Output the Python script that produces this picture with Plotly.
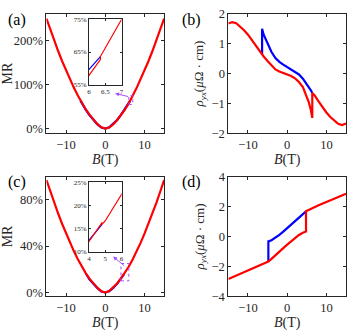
import plotly.graph_objects as go

# ---- data ----
# (a) MR, sample 1
a_red_B = [-15, -14, -13, -12, -11, -10, -9, -8, -7, -6, -5, -4, -3, -2, -1, 0,
           1, 2, 3, 4, 5, 6, 6.35, 6.35, 7, 8, 9, 10, 11, 12, 13, 14, 15]
a_red_MR = [250, 224, 199.5, 175.7, 153, 131.7, 111.5, 92.6, 75, 58.8, 44, 31, 19.7, 10, 2.8, 0,
            2.5, 9.5, 19.1, 30.3, 43.3, 57.8, 62.7, 63.6, 75, 92.6, 111.5, 131.7, 153, 175.7, 199.5, 224, 250]
a_blue_B = [6.35, 6, 5, 4, 3, 2, 1, 0, -1, -2, -3, -4, -5, -6, -6.35, -6.35]
a_blue_MR = [63.6, 58.8, 44, 31, 19.7, 10, 2.8, 0, 2.5, 9.5, 19.1, 30.3, 43.3, 57.8, 62.7, 63.6]

# (b) Hall resistivity, sample 1
b_red_B = [-15, -14, -13, -12, -11, -10, -9, -8, -7, -6.4, -6, -5, -4, -3, -2, -1, 0,
           1, 2, 3, 4, 5, 5.5, 6, 6.4, 6.4, 7, 8, 9, 10, 11, 12, 13, 14, 15]
b_red_rho = [1.67, 1.72, 1.68, 1.58, 1.45, 1.3, 1.12, 0.93, 0.73, 0.65, 0.57, 0.42, 0.27, 0.14, 0.07, 0.02, -0.03,
             -0.08, -0.16, -0.28, -0.45, -0.75, -0.95, -1.2, -1.48, -0.65, -0.73, -0.93, -1.12, -1.3, -1.45, -1.58, -1.68, -1.72, -1.67]
b_blue_B = [-6.4, -6.4, -6, -5.5, -5, -4, -3, -2, -1, 0, 1, 2, 3, 4, 5, 6, 6.4]
b_blue_rho = [0.65, 1.5, 1.3, 1.15, 0.98, 0.72, 0.52, 0.39, 0.3, 0.22, 0.15, 0.07, -0.03, -0.17, -0.35, -0.55, -0.65]

# (c) MR, sample 2
c_red_B = [-15, -14, -13, -12, -11, -10, -9, -8, -7, -6, -5, -4, -3, -2, -1, 0,
           1, 2, 3, 4, 4.8, 4.8, 5, 6, 7, 8, 9, 10, 11, 12, 13, 14, 15]
c_red_MR = [97, 86.9, 77.1, 67.9, 59.1, 50.7, 42.8, 35.5, 28.7, 22.4, 16.7, 11.7, 7.4, 3.9, 1.1, 0,
            1.2, 4.1, 7.8, 12.2, 16.3, 15.9, 16.7, 22.4, 28.7, 35.5, 42.8, 50.7, 59.1, 67.9, 77.1, 86.9, 97]
c_blue_B = [4.8, 4, 3, 2, 1, 0, -1, -2, -3, -4, -4.8, -4.8]
c_blue_MR = [15.9, 11.7, 7.4, 3.9, 1.1, 0, 0.8, 3.6, 7.0, 11.2, 15.5, 15.9]

# (d) Hall resistivity, sample 2
d_red_B = [-15, -12, -10, -8, -6, -4.8, -4, -3, -2, -1, 0, 1, 2, 3, 4, 4.8, 4.8, 6, 8, 10, 12, 15]
d_red_rho = [-2.85, -2.5, -2.3, -2.08, -1.85, -1.67, -1.5, -1.28, -1.02, -0.78, -0.55, -0.32, -0.1, 0.1, 0.25, 0.33,
             1.68, 1.85, 2.08, 2.3, 2.5, 2.85]
d_blue_B = [-4.8, -4.8, -4, -3, -2, -1, 0, 1, 2, 3, 4, 4.8]
d_blue_rho = [-1.67, -0.33, -0.25, -0.1, 0.1, 0.32, 0.55, 0.78, 1.02, 1.28, 1.5, 1.67]

RED = "#FF0000"
BLUE = "#0000FF"
PURPLE = "#A64DFF"
AX = "#262626"
FONT = "Liberation Serif"

W, H = 349, 333


def px_dom(a, b, total):
    return [a / total, b / total]


def py_dom(top, bot):
    return [1 - bot / H, 1 - top / H]


fig = go.Figure()


def line(x, y, color, xa, ya, width=2.2):
    fig.add_trace(go.Scatter(x=x, y=y, mode="lines", line=dict(color=color, width=width),
                             xaxis=xa, yaxis=ya, showlegend=False, hoverinfo="skip"))


# main panels
line(a_blue_B, a_blue_MR, BLUE, "x", "y")
line(a_red_B, a_red_MR, RED, "x", "y")
line(b_blue_B, b_blue_rho, BLUE, "x2", "y2")
line(b_red_B, b_red_rho, RED, "x2", "y2")
line(c_blue_B, c_blue_MR, BLUE, "x3", "y3")
line(c_red_B, c_red_MR, RED, "x3", "y3")
line(d_blue_B, d_blue_rho, BLUE, "x4", "y4")
line(d_red_B, d_red_rho, RED, "x4", "y4")
# insets
line(a_blue_B, a_blue_MR, BLUE, "x5", "y5", 1.2)
line(a_red_B, a_red_MR, RED, "x5", "y5", 1.2)
line(c_blue_B, c_blue_MR, BLUE, "x6", "y6", 1.2)
line(c_red_B, c_red_MR, RED, "x6", "y6", 1.2)


def axis(dom, rng, tickvals, ticktext=None, size=12.5, anchor=None, ticklen=3):
    d = dict(domain=dom, range=rng, tickvals=tickvals, showgrid=False, zeroline=False,
             showline=True, linecolor=AX, linewidth=1, mirror="ticks", ticks="inside",
             ticklen=ticklen, tickcolor=AX, tickfont=dict(family=FONT, size=size, color=AX),
             anchor=anchor, fixedrange=True, ticklabeloverflow="allow")
    if ticktext is not None:
        d["ticktext"] = ticktext
    return d


xl = px_dom(45, 164, W)
xr = px_dom(229, 348, W)
yt = py_dom(7, 132)
yb = py_dom(177, 302)
Btitle = dict(text="<i>B</i>(T)", font=dict(family=FONT, size=14, color=AX), standoff=1)
rho_title = dict(text="<i>ρ</i><sub><i>yx</i></sub>(<i>μ</i>Ω · cm)",
                 font=dict(family=FONT, size=13, color=AX), standoff=4)
MR_title = dict(text="MR", font=dict(family=FONT, size=14, color=AX), standoff=4)

fig.update_layout(
    width=W, height=H, margin=dict(l=0, r=0, t=0, b=0),
    paper_bgcolor="white", plot_bgcolor="white",
    xaxis=axis(xl, [-15, 15], [-10, 0, 10], anchor="y") | dict(title=Btitle),
    yaxis=axis(yt, [-11, 261], [0, 100, 200], ["0%", "100%", "200%"], anchor="x") | dict(title=MR_title),
    xaxis2=axis(xr, [-15, 15], [-10, 0, 10], anchor="y2") | dict(title=Btitle),
    yaxis2=axis(yt, [-2, 2], [-2, -1, 0, 1, 2], anchor="x2") | dict(title=rho_title),
    xaxis3=axis(xl, [-15, 15], [-10, 0, 10], anchor="y3") | dict(title=Btitle),
    yaxis3=axis(yb, [-3.3, 100], [0, 40, 80], ["0%", "40%", "80%"], anchor="x3") | dict(title=MR_title),
    xaxis4=axis(xr, [-15, 15], [-10, 0, 10], anchor="y4") | dict(title=Btitle),
    yaxis4=axis(yb, [-4, 4], [-4, -2, 0, 2, 4], anchor="x4") | dict(title=rho_title),
    xaxis5=axis(px_dom(88, 121, W), [6, 7.002], [6, 6.5, 7], ["6", "6.5", "7"], size=7, anchor="y5", ticklen=2),
    yaxis5=axis(py_dom(13, 81), [54.98, 75.02], [55, 65, 75], ["55%", "65%", "75%"], size=7, anchor="x5", ticklen=2),
    xaxis6=axis(px_dom(88, 121, W), [3.998, 6.002], [4, 5, 6], ["4", "5", "6"], size=7, anchor="y6", ticklen=2),
    yaxis6=axis(py_dom(183, 255.5), [9.98, 25.02], [10, 15, 20, 25], ["10%", "15%", "20%", "25%"], size=7, anchor="x6", ticklen=2),
)

# zoom boxes and arrows
fig.add_shape(type="rect", xref="x", yref="y", x0=6, x1=7, y0=55, y1=75,
              line=dict(color=PURPLE, width=1, dash="dot"))
fig.add_shape(type="rect", xref="x3", yref="y3", x0=4, x1=6, y0=10, y1=25,
              line=dict(color=PURPLE, width=1, dash="dot"))
fig.add_annotation(xref="x", yref="y", x=2.5, y=80, axref="x", ayref="y", ax=6.2, ay=72,
                   showarrow=True, arrowhead=2, arrowsize=0.8, arrowwidth=1, arrowcolor=PURPLE, text="")
fig.add_annotation(xref="x3", yref="y3", x=2.0, y=31, axref="x3", ayref="y3", ax=5.2, ay=22,
                   showarrow=True, arrowhead=2, arrowsize=0.8, arrowwidth=1, arrowcolor=PURPLE, text="")

# panel labels
for lab, x, y in [("(a)", 0.012, 0.995), ("(b)", 0.515, 0.995), ("(c)", 0.012, 0.485), ("(d)", 0.515, 0.485)]:
    fig.add_annotation(xref="paper", yref="paper", x=x, y=y, xanchor="left", yanchor="top",
                       text=lab, showarrow=False, font=dict(family=FONT, size=16, color="black"))

fig.write_html("out.html", config={"displayModeBar": False},
               post_script="document.body.style.margin='0';document.body.style.overflow='hidden';")
